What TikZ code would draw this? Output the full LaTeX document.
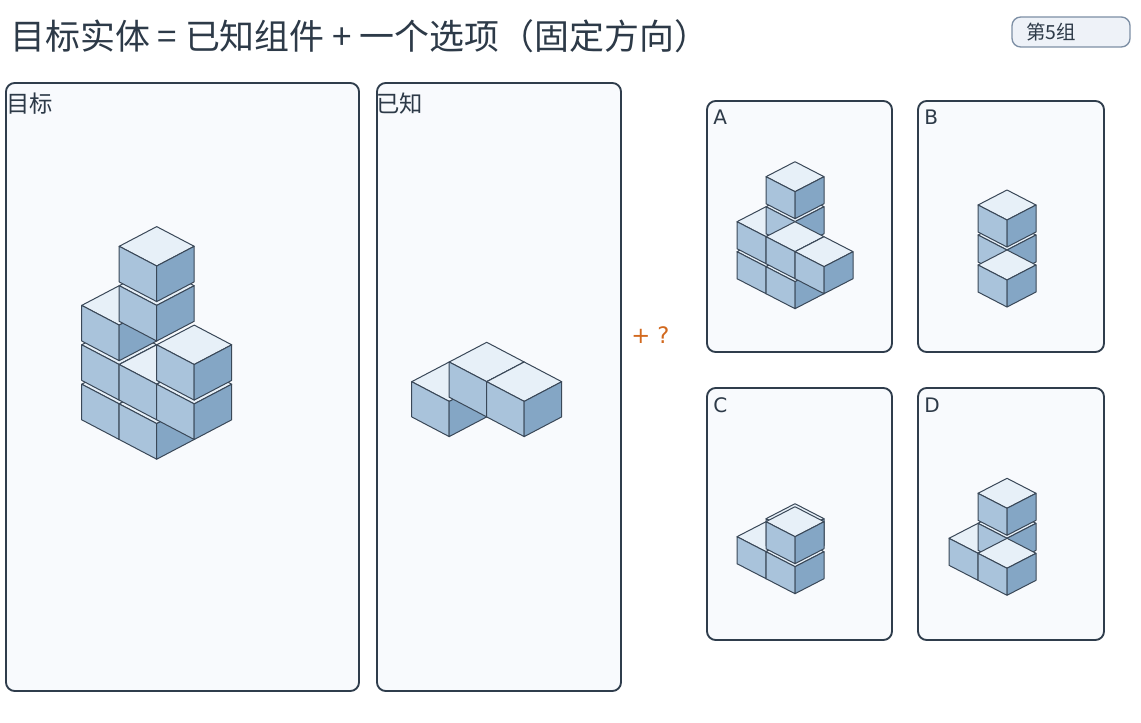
\documentclass[tikz,border=0pt]{standalone}
\usepackage{fontspec}
\newfontfamily\cjk{Noto Sans CJK SC}
\newfontfamily\dejavu{DejaVu Sans}
\definecolor{ctop}{HTML}{E7F0F8}
\definecolor{cleft}{HTML}{A9C3DB}
\definecolor{cright}{HTML}{84A6C5}
\definecolor{edgec}{HTML}{3A4858}
\definecolor{panelfill}{HTML}{F8FAFD}
\definecolor{paneldraw}{HTML}{2F3D4C}
\definecolor{titlec}{HTML}{2D3A48}
\definecolor{badgefill}{HTML}{EEF2F8}
\definecolor{badgedraw}{HTML}{7D8FA5}
\definecolor{orangec}{HTML}{D2691E}
\tikzset{
  cubeedge/.style={draw=edgec, line width=0.75pt, line join=round},
  panel/.style={draw=paneldraw, fill=panelfill, line width=1.4pt, rounded corners=6.5pt},
  panellabel/.style={anchor=base west, inner sep=0pt, text=titlec, font=\cjk\fontsize{17.5}{21}\selectfont},
  optlabel/.style={anchor=base west, inner sep=0pt, text=titlec, font=\dejavu\fontsize{15}{18}\selectfont}
}
\newcommand{\isocube}[2]{%
  \pgfmathsetmacro\cfx{(#1)*\cubeU}%
  \pgfmathsetmacro\cfy{(#2)*\cubeD}%
  \filldraw[cubeedge,fill=ctop] (\cfx,\cfy) -- ++(-\cubeU,-\cubeD) -- ++(\cubeU,-\cubeD) -- ++(\cubeU,\cubeD) -- cycle;
  \filldraw[cubeedge,fill=cleft] (\cfx,\cfy) -- ++(-\cubeU,-\cubeD) -- ++(0,\cubeH) -- ++(\cubeU,\cubeD) -- cycle;
  \filldraw[cubeedge,fill=cright] (\cfx,\cfy) -- ++(\cubeU,-\cubeD) -- ++(0,\cubeH) -- ++(-\cubeU,\cubeD) -- cycle;
}
\begin{document}
\begin{tikzpicture}[x=0.75pt,y=-0.75pt]
\useasboundingbox (0,0) rectangle (1141,723);
\fill[white] (0,0) rectangle (1141,723);

% title
\node[anchor=base west, inner sep=0pt, text=titlec, font=\cjk\fontsize{26.2}{31}\selectfont] (title) at (10,49.5) {目标实体 = 已知组件 + 一个选项（固定方向）};

% badge
\draw[badgedraw, fill=badgefill, line width=1pt, rounded corners=6.5pt] (1012,17) rectangle (1130,47);
\node[anchor=base west, inner sep=0pt, text=titlec, font=\cjk\fontsize{14.6}{17}\selectfont] (badge) at (1026,39.5) {第5组};

% panels
\draw[panel] (6,83) rectangle (359,691);
\draw[panel] (377,83) rectangle (621,691);
\draw[panel] (707,101) rectangle (892,352);
\draw[panel] (918,101) rectangle (1104,352);
\draw[panel] (707,388) rectangle (892,640);
\draw[panel] (918,388) rectangle (1104,640);

\node[panellabel] (lt) at (6,112.5) {目标};
\node[panellabel] (lk) at (376,112.5) {已知};
\node[optlabel] (la) at (713,125) {A};
\node[optlabel] (lb) at (924,125) {B};
\node[optlabel] (lc) at (713,412.5) {C};
\node[optlabel] (ld) at (924,412.5) {D};

\node[anchor=base west, inner sep=0pt, text=orangec, font=\dejavu\fontsize{17}{20}\selectfont] (plus) at (631,344) {+ ?};

% target
\begin{scope}[shift={(156.7,266)}]
\def\cubeU{37.5}\def\cubeD{19.7}\def\cubeH{35.6}
\isocube{-1}{7}\isocube{-1}{5}\isocube{-1}{3}
\isocube{0}{8}\isocube{0}{6}\isocube{0}{2}\isocube{0}{0}
\isocube{1}{7}\isocube{1}{5}
\end{scope}

% known
\begin{scope}[shift={(486.7,381.7)}]
\def\cubeU{37.5}\def\cubeD{19.7}\def\cubeH{35.2}
\isocube{-1}{1}\isocube{0}{0}\isocube{1}{1}
\end{scope}

% option A
\begin{scope}[shift={(795,191.7)}]
\def\cubeU{29}\def\cubeD{15}\def\cubeH{27}
\isocube{-1}{5}\isocube{-1}{3}\isocube{0}{2}\isocube{0}{0}
\isocube{0}{6}\isocube{0}{4}\isocube{1}{5}
\end{scope}

% option B
\begin{scope}[shift={(1007,220)}]
\def\cubeU{29}\def\cubeD{15}\def\cubeH{27}
\isocube{0}{2}\isocube{0}{0}\isocube{0}{4}
\end{scope}

% option C
\begin{scope}[shift={(795,536.7)}]
\def\cubeU{29}\def\cubeD{15}\def\cubeH{27}
\isocube{-1}{1}\isocube{0}{2}\isocube{0}{-0.2}\isocube{0}{0}
\end{scope}

% option D
\begin{scope}[shift={(1007,508.3)}]
\def\cubeU{29}\def\cubeD{15}\def\cubeH{27}
\isocube{-1}{3}\isocube{0}{2}\isocube{0}{0}\isocube{0}{4}
\end{scope}
\end{tikzpicture}
\end{document}
